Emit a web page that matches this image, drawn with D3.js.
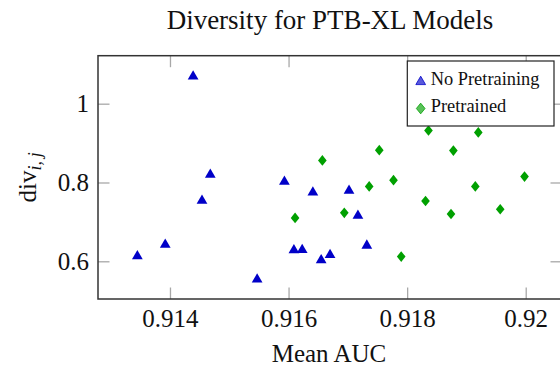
<!DOCTYPE html>
<html>
<head>
<meta charset="utf-8">
<script src="https://cdn.jsdelivr.net/npm/d3@7"></script>
<style>
  html, body { margin: 0; padding: 0; background: #fff; }
  svg { display: block; }
  svg text { font-family: "Liberation Serif", "Times New Roman", serif; }
</style>
</head>
<body>
<div id="chart"></div>
<script>
// values
const noPretrainAuc = [0.91345, 0.91392, 0.91439, 0.91454, 0.91468, 0.91547, 0.91593, 0.91609,
                       0.91623, 0.91641, 0.91655, 0.91670, 0.91702, 0.91717, 0.91732];
const noPretrainDiv = [0.613, 0.642, 1.069, 0.754, 0.820, 0.554, 0.802, 0.628,
                       0.629, 0.775, 0.603, 0.616, 0.779, 0.716, 0.640];
const pretrainedAuc = [0.91611, 0.91657, 0.91694, 0.91736, 0.91753, 0.91777, 0.91790, 0.91831,
                       0.91836, 0.91874, 0.91878, 0.91915, 0.91920, 0.91957, 0.91998];
const pretrainedDiv = [0.710, 0.856, 0.723, 0.790, 0.882, 0.806, 0.612, 0.753,
                       0.932, 0.720, 0.881, 0.790, 0.927, 0.732, 0.815];
const xTicks = [0.914, 0.916, 0.918, 0.92];
const yTicks = [0.6, 0.8, 1];
const seriesNames = ["No Pretraining", "Pretrained"];

const width = 560, height = 366;
const margins = {top: 55.7, right: 0, bottom: 67, left: 98};
const plotRight = 562;   // right frame edge sits just past the picture

const svg = d3.select("#chart").append("svg")
  .attr("width", width)
  .attr("height", height);

const x = d3.scaleLinear()
  .domain([0.912786, 0.920612])
  .range([margins.left, plotRight]);

const y = d3.scaleLinear()
  .domain([0.5043, 1.1218])
  .range([height - margins.bottom, margins.top]);

const tickLen = 11.5;
const fmt = d3.format("~g");

// ticks on all four sides, pointing inward
svg.append("g")
  .attr("class", "xaxis")
  .attr("transform", `translate(0,${y.range()[0]})`)
  .call(d3.axisBottom(x).tickValues(xTicks).tickSize(-tickLen).tickPadding(10).tickFormat(fmt));
svg.append("g")
  .attr("transform", `translate(0,${y.range()[1]})`)
  .call(d3.axisTop(x).tickValues(xTicks).tickSize(-tickLen).tickFormat(""));
svg.append("g")
  .attr("class", "yaxis")
  .attr("transform", `translate(${margins.left},0)`)
  .call(d3.axisLeft(y).tickValues(yTicks).tickSize(-tickLen).tickPadding(9).tickFormat(fmt));
svg.append("g")
  .attr("transform", `translate(${plotRight},0)`)
  .call(d3.axisRight(y).tickValues(yTicks).tickSize(-tickLen).tickFormat(""));

svg.selectAll(".domain").remove();
svg.selectAll("g").attr("font-family", null).attr("font-size", null);
svg.selectAll(".tick line").attr("stroke", "#a8a8a8").attr("stroke-width", 1.3);
svg.selectAll(".tick text")
  .attr("fill", "#111")
  .style("font-size", "25px");

// frame
svg.append("rect")
  .attr("x", margins.left)
  .attr("y", margins.top)
  .attr("width", plotRight - margins.left)
  .attr("height", y.range()[0] - margins.top)
  .attr("fill", "none")
  .attr("stroke", "#333")
  .attr("stroke-width", 1.5);

// markers
const blue = "#0000c8", green = "#00a000";
const diamond = {
  draw(ctx, size) {
    const h = Math.sqrt(size) * 0.72, w = h * 0.81;
    ctx.moveTo(0, -h); ctx.lineTo(w, 0); ctx.lineTo(0, h); ctx.lineTo(-w, 0); ctx.closePath();
  }
};
const triSym = d3.symbol().type(d3.symbolTriangle).size(50);
const diaSym = d3.symbol().type(diamond).size(55);

const plot = svg.append("g");
plot.selectAll("path.tri")
  .data(d3.range(noPretrainAuc.length))
  .enter().append("path")
    .attr("class", "tri")
    .attr("d", triSym)
    .attr("transform", i => `translate(${x(noPretrainAuc[i])},${y(noPretrainDiv[i])})`)
    .attr("fill", blue);

plot.selectAll("path.dia")
  .data(d3.range(pretrainedAuc.length))
  .enter().append("path")
    .attr("class", "dia")
    .attr("d", diaSym)
    .attr("transform", i => `translate(${x(pretrainedAuc[i])},${y(pretrainedDiv[i])})`)
    .attr("fill", green);

// legend
const legend = svg.append("g");
legend.append("rect")
  .attr("x", 407.3).attr("y", 61)
  .attr("width", 146.7).attr("height", 65)
  .attr("fill", "#fff")
  .attr("stroke", "#222")
  .attr("stroke-width", 1.2);
legend.append("path")
  .attr("d", d3.symbol().type(d3.symbolTriangle).size(41)())
  .attr("transform", "translate(420.7,81.8)")
  .attr("fill", blue).attr("fill-opacity", 0.65)
  .attr("stroke", blue).attr("stroke-width", 0.8);
legend.append("path")
  .attr("d", diaSym)
  .attr("transform", "translate(420.7,108.5)")
  .attr("fill", green).attr("fill-opacity", 0.65)
  .attr("stroke", green).attr("stroke-width", 0.8);
legend.selectAll("text")
  .data(seriesNames)
  .enter().append("text")
    .attr("x", 430.7)
    .attr("y", (d, i) => i === 0 ? 84.7 : 112.3)
    .style("font-size", "18.4px")
    .attr("fill", "#111")
    .text(d => d);

// title and axis labels
const midX = (margins.left + plotRight) / 2;
svg.append("text")
  .attr("x", midX).attr("y", 29)
  .attr("text-anchor", "middle")
  .style("font-size", "27px")
  .attr("fill", "#111")
  .text("Diversity for PTB-XL Models");

svg.append("text")
  .attr("x", 329).attr("y", 362)
  .attr("text-anchor", "middle")
  .style("font-size", "25px")
  .attr("fill", "#111")
  .text("Mean AUC");

const ylab = svg.append("text")
  .attr("transform", `translate(36,${(y.range()[0] + y.range()[1]) / 2}) rotate(-90)`)
  .attr("text-anchor", "middle")
  .style("font-size", "25px")
  .attr("fill", "#111");
ylab.append("tspan").text("div");
ylab.append("tspan")
  .attr("dy", 5)
  .style("font-size", "18px")
  .style("font-style", "italic")
  .text("i,\u2009j");
</script>
</body>
</html>
